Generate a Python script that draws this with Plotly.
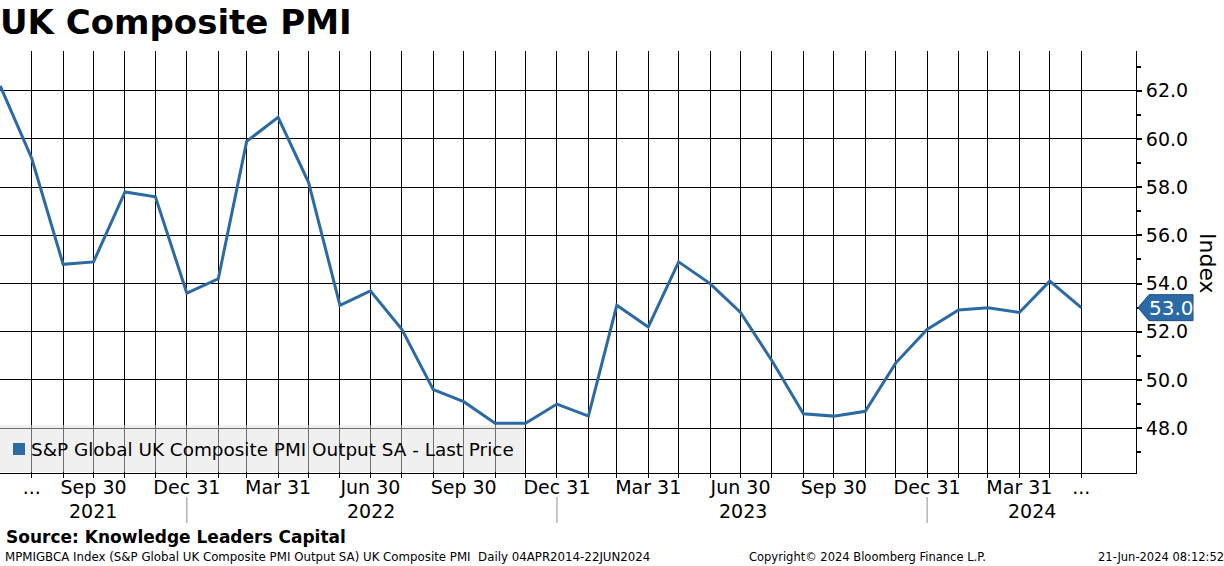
import pandas as pd
import plotly.graph_objects as go

# ---- data ----
dates = pd.date_range("2021-06-30", periods=36, freq="ME")
pmi = [62.2, 59.2, 54.8, 54.9, 57.8, 57.6, 53.6,
       54.2, 59.9, 60.9, 58.2, 53.1, 53.7, 52.1, 49.6, 49.1, 48.2, 48.2, 49.0,
       48.5, 53.1, 52.2, 54.9, 54.0, 52.8, 50.8, 48.6, 48.5, 48.7, 50.7, 52.1,
       52.9, 53.0, 52.8, 54.1, 53.0]
tick_dates = dates[1:]
quarter_labels = {"2021-07-31": "...", "2021-09-30": "Sep 30", "2021-12-31": "Dec 31",
                  "2022-03-31": "Mar 31", "2022-06-30": "Jun 30", "2022-09-30": "Sep 30",
                  "2022-12-31": "Dec 31", "2023-03-31": "Mar 31", "2023-06-30": "Jun 30",
                  "2023-09-30": "Sep 30", "2023-12-31": "Dec 31", "2024-03-31": "Mar 31",
                  "2024-05-31": "..."}
year_labels = ["2021", "2022", "2023", "2024"]
year_centers = ["2021-09-29", "2022-07-01", "2023-07-02", "2024-04-12"]
year_breaks = ["2021-12-31", "2022-12-31", "2023-12-31"]
y_ticks = [48, 50, 52, 54, 56, 58, 60, 62]

series_name = "S&P Global UK Composite PMI Output SA - Last Price"
blue = "#2c6aa6"
FONT = "DejaVu Sans"

tick_text = [quarter_labels.get(d.strftime("%Y-%m-%d"), "") for d in tick_dates]

fig = go.Figure()
fig.add_trace(go.Scatter(x=dates, y=pmi, mode="lines", name=series_name,
                         line=dict(color=blue, width=3), showlegend=False))

PLOT_BOTTOM = 473  # px from top

fig.update_layout(
    width=1224, height=566,
    margin=dict(l=0, r=88, t=51, b=93),
    paper_bgcolor="white", plot_bgcolor="white",
    font=dict(family=FONT, color="black", size=19),
    title=dict(text="<b>UK Composite PMI</b>", x=0.0, xanchor="left",
               y=1 - 22 / 566, yanchor="middle",
               font=dict(family=FONT, size=34, color="black"), pad=dict(l=0)),
    xaxis=dict(range=["2021-06-29 18:00", "2024-07-24"], type="date",
               tickmode="array", tickvals=tick_dates, ticktext=tick_text,
               showgrid=True, gridcolor="black", gridwidth=1,
               showline=True, linecolor="black", linewidth=1,
               ticks="outside", ticklen=4, tickcolor="black",
               ticklabelstandoff=-7,
               tickfont=dict(size=19), zeroline=False),
    yaxis=dict(range=[46.14, 63.65], side="right", tickmode="array",
               tickvals=y_ticks, ticktext=[f"{v:.1f}" for v in y_ticks],
               showgrid=True, gridcolor="black", gridwidth=1,
               showline=True, linecolor="black", linewidth=1,
               ticks="outside", ticklen=5, tickwidth=2, tickcolor="black",
               minor=dict(dtick=1, tick0=47, ticks="outside", ticklen=4,
                          tickcolor="black", showgrid=False),
               tickfont=dict(size=19), zeroline=False),
)

shapes = []
# legend box
shapes.append(dict(type="rect", xref="paper", yref="paper",
                   xanchor=0, xsizemode="pixel", x0=0, x1=524,
                   yanchor=0, ysizemode="pixel", y0=1, y1=48,
                   fillcolor="rgba(224,224,224,0.49)", line=dict(width=0),
                   layer="above"))
shapes.append(dict(type="rect", xref="paper", yref="paper",
                   xanchor=0, xsizemode="pixel", x0=13, x1=25,
                   yanchor=0, ysizemode="pixel", y0=18, y1=30,
                   fillcolor=blue, line=dict(width=0), layer="above"))
# year separators
for d in year_breaks:
    shapes.append(dict(type="line", xref="x", yref="paper", x0=d, x1=d,
                       yanchor=0, ysizemode="pixel", y0=-24, y1=-50,
                       line=dict(color="#909090", width=1)))
# last price tag
shapes.append(dict(type="path", xref="paper", yref="y",
                   xanchor=1, xsizemode="pixel", yanchor=pmi[-1], ysizemode="pixel",
                   path="M 2 0 L 13 13 L 57 13 L 57 -13 L 13 -13 Z",
                   fillcolor=blue, line=dict(color="#1d4f80", width=1)))
fig.update_layout(shapes=shapes)

ann = []
ann.append(dict(text=series_name, xref="paper", yref="paper", x=0, y=0,
                xshift=29, yshift=24, xanchor="left", yanchor="middle",
                showarrow=False, font=dict(size=18.4, color="black")))
for t, c in zip(year_labels, year_centers):
    ann.append(dict(text=t, xref="x", yref="paper", x=c, y=0, yshift=-(511 - PLOT_BOTTOM),
                    xanchor="center", yanchor="middle", showarrow=False,
                    font=dict(size=19, color="black")))
ann.append(dict(text="Index", xref="paper", yref="paper", x=1, y=0,
                xshift=72, yshift=PLOT_BOTTOM - 263, textangle=90,
                xanchor="center", yanchor="middle", showarrow=False,
                font=dict(size=22, color="black")))
ann.append(dict(text=f"{pmi[-1]:.1f}", xref="paper", yref="y", x=1, y=pmi[-1],
                xshift=35, xanchor="center", yanchor="middle", showarrow=False,
                font=dict(size=20, color="white")))
ann.append(dict(text="<b>Source: Knowledge Leaders Capital</b>", xref="paper", yref="paper",
                x=0, y=0, xshift=4, yshift=PLOT_BOTTOM - 537, xanchor="left", yanchor="middle",
                showarrow=False, font=dict(size=17, color="black")))
ann.append(dict(text="MPMIGBCA Index (S&P Global UK Composite PMI Output SA) UK Composite PMI  Daily 04APR2014-22JUN2024",
                xref="paper", yref="paper", x=0, y=0, xshift=3, yshift=PLOT_BOTTOM - 557,
                xanchor="left", yanchor="middle", showarrow=False,
                font=dict(size=11.8, color="black")))
ann.append(dict(text="Copyright© 2024 Bloomberg Finance L.P.", xref="paper", yref="paper",
                x=0, y=0, xshift=747, yshift=PLOT_BOTTOM - 557, xanchor="left", yanchor="middle",
                showarrow=False, font=dict(size=11.5, color="black")))
ann.append(dict(text="21-Jun-2024 08:12:52", xref="paper", yref="paper",
                x=1, y=0, xshift=88 + 2, yshift=PLOT_BOTTOM - 557, xanchor="right", yanchor="middle",
                showarrow=False, font=dict(size=11.5, color="black")))
fig.update_layout(annotations=ann)

fig.write_html("out.html", config={"displayModeBar": False},
               post_script="document.body.style.margin='0';document.body.style.padding='0';"
                           "document.body.style.overflow='hidden';")
